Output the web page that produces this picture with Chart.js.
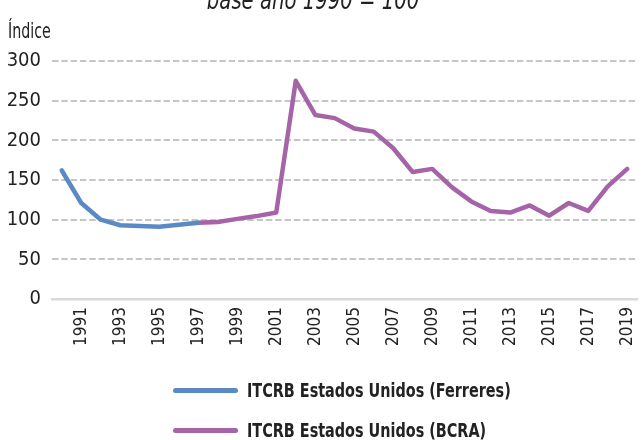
<!DOCTYPE html>
<html>
<head>
<meta charset="utf-8">
<script src="https://cdn.jsdelivr.net/npm/chart.js@4"></script>
<style>
  html, body { margin: 0; padding: 0; background: #fff; }
  #wrap { position: relative; width: 641px; height: 440px; overflow: hidden; }
  #legend { position: absolute; left: 173px; top: 370px; font-family: "DejaVu Sans Condensed", sans-serif; font-weight: bold; font-size: 20px; color: #222; }
  .item { display: flex; align-items: center; height: 40px; white-space: nowrap; }
  .swatch { width: 65px; height: 5px; border-radius: 3px; margin-right: 9px; flex: none; }
  .name { display: inline-block; transform: scaleX(0.8); transform-origin: left center; }
</style>
</head>
<body>
<div id="wrap">
  <canvas id="chart" width="641" height="440"></canvas>
  <div id="legend"></div>
</div>
<script>
// --- Data ---
const years = [1990, 1991, 1992, 1993, 1994, 1995, 1996, 1997, 1998, 1999,
               2000, 2001, 2002, 2003, 2004, 2005, 2006, 2007, 2008, 2009,
               2010, 2011, 2012, 2013, 2014, 2015, 2016, 2017, 2018, 2019];
const ferreres = [162, 121, 100, 93, 92, 91, 93.5, 96, null, null,
                  null, null, null, null, null, null, null, null, null, null,
                  null, null, null, null, null, null, null, null, null, null];
const bcra = [null, null, null, null, null, null, null, 96, 97, 101,
              104.5, 109, 275, 232, 228, 215, 211, 190, 160, 164,
              141, 123, 111, 109, 118, 105, 121, 111, 142, 164];
const yTicks = [0, 50, 100, 150, 200, 250, 300];

const seriesNames = ['ITCRB Estados Unidos (Ferreres)', 'ITCRB Estados Unidos (BCRA)'];
const seriesColors = ['#5a8ac6', '#a664a8'];

const FONT = '"DejaVu Sans Condensed", sans-serif';

// --- Extra texts drawn on the canvas (cut-off subtitle and y label) ---
const textPlugin = {
    id: 'extraText',
    afterDraw(chart) {
        const ctx = chart.ctx;
        ctx.save();
        ctx.fillStyle = '#222';
        ctx.textBaseline = 'alphabetic';
        // subtitle, only its lower part is visible
        ctx.save();
        ctx.translate(313, 9);
        ctx.scale(0.84, 1);
        ctx.font = 'italic 26px ' + FONT;
        ctx.textAlign = 'center';
        ctx.fillText('base año 1990 = 100', 0, 0);
        ctx.restore();
        // y axis label
        ctx.save();
        ctx.translate(8, 38);
        ctx.scale(0.72, 1);
        ctx.font = '22px ' + FONT;
        ctx.textAlign = 'left';
        ctx.fillText('Índice', 0, 0);
        ctx.restore();
        ctx.restore();
    }
};

new Chart(document.getElementById('chart'), {
    type: 'line',
    data: {
        labels: years,
        datasets: [
            { label: seriesNames[0], data: ferreres, borderColor: seriesColors[0], backgroundColor: seriesColors[0] },
            { label: seriesNames[1], data: bcra, borderColor: seriesColors[1], backgroundColor: seriesColors[1] }
        ].map(d => Object.assign(d, { borderWidth: 4.5, pointRadius: 0, tension: 0, spanGaps: false, borderJoinStyle: 'round', borderCapStyle: 'round' }))
    },
    options: {
        responsive: false,
        animation: false,
        layout: { padding: { top: 61, right: 4, left: 0, bottom: 95 } },
        plugins: { legend: { display: false }, tooltip: { enabled: false } },
        scales: {
            x: {
                offset: true,
                grid: { display: false, drawTicks: false },
                border: { display: true, color: '#d9d9d9', width: 2.5 },
                afterFit: s => { s.height = 46; s.paddingLeft = 0; s.paddingRight = 0; },
                ticks: {
                    autoSkip: false,
                    minRotation: 90,
                    maxRotation: 90,
                    padding: 8,
                    color: '#222',
                    font: { family: FONT, size: 17 },
                    callback: function (v, i) { return years[i] % 2 === 1 ? String(years[i]) : ''; }
                }
            },
            y: {
                min: 0,
                max: 300,
                afterFit: s => { s.width = 52; },
                afterBuildTicks: s => { s.ticks = yTicks.map(v => ({ value: v })); },
                grid: {
                    drawTicks: false,
                    color: c => c.tick && c.tick.value === 0 ? 'rgba(0,0,0,0)' : '#c6c6c6',
                    lineWidth: 2
                },
                border: { display: false, dash: [6.5, 2.8] },
                ticks: {
                    padding: 11,
                    color: '#222',
                    font: { family: FONT, size: 20 }
                }
            }
        }
    },
    plugins: [textPlugin]
});

// --- Legend ---
const legend = document.getElementById('legend');
seriesNames.forEach((name, i) => {
    const row = document.createElement('div');
    row.className = 'item';
    row.innerHTML = `<span class="swatch" style="background:${seriesColors[i]}"></span><span class="name">${name}</span>`;
    legend.appendChild(row);
});
</script>
</body>
</html>
